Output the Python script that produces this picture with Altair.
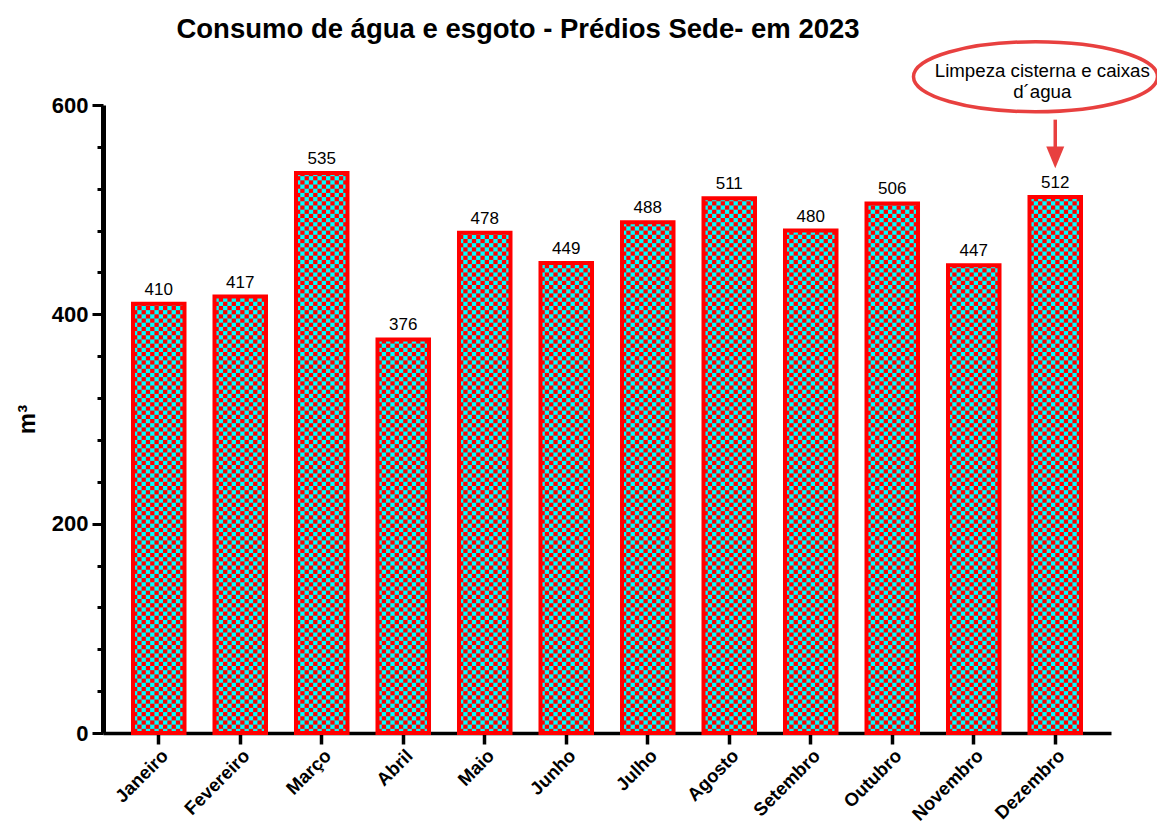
import math
import altair as alt
import pandas as pd

# ---- data ----
months = ["Janeiro", "Fevereiro", "Março", "Abril", "Maio", "Junho",
          "Julho", "Agosto", "Setembro", "Outubro", "Novembro", "Dezembro"]
values = [410, 417, 535, 376, 478, 449, 488, 511, 480, 506, 447, 512]

title_text = "Consumo de água e esgoto - Prédios Sede- em 2023"
y_title = "m³"
y_ticks = list(range(0, 601, 20))

note_text = ["Limpeza cisterna e caixas", "d´agua"]
note_month = "Dezembro"
note_y = 627        # ellipse / note level (m³ units)
arrow_top = 586     # arrow shaft start (m³ units)
arrow_head = 550    # arrow head centre (m³ units)

# ---- derived tables ----
bars = pd.DataFrame({"month": months, "value": values})

CELL = 4
NCOLS = 12
cell_rows = []
for m, v in zip(months, values):
    for r in range(math.ceil(v / CELL)):
        for c in range(NCOLS):
            if (r + c) % 2 == 0:
                cell_rows.append({"month": m, "col": c,
                                  "y0": r * CELL, "y1": min((r + 1) * CELL, v)})
cells = pd.DataFrame(cell_rows)

note = pd.DataFrame({"month": [note_month], "y": [note_y],
                     "text": ["\n".join(note_text)],
                     "ytop": [arrow_top], "yhead": [arrow_head]})

FONT = "Liberation Sans"
RED = "#FF0000"
CYAN = "#00FFFF"
NOTE_RED = "#E8403F"

ELLIPSE = ("M-1,0C-1,-0.1585,-0.5523,-0.287,0,-0.287"
           "C0.5523,-0.287,1,-0.1585,1,0"
           "C1,0.1585,0.5523,0.287,0,0.287"
           "C-0.5523,0.287,-1,0.1585,-1,0Z")

xscale = alt.Scale(domain=months, paddingInner=0.368, paddingOuter=0.368)
yscale = alt.Scale(domain=[0, 600], nice=False)

x_enc = alt.X("month:N", sort=months, scale=xscale,
              axis=alt.Axis(title=None, labelAngle=-45, labelFont=FONT,
                            labelFontWeight="bold", labelFontSize=18.5,
                            labelColor="black", domainColor="black",
                            domainWidth=3.5, tickColor="black", tickWidth=3.5,
                            tickSize=11, labelPadding=2, grid=False))

y_axis = alt.Axis(values=y_ticks,
                  labelExpr="datum.value % 200 === 0 ? datum.label : ''",
                  tickSize={"condition": {"test": "datum.value % 200 === 0", "value": 11},
                            "value": 6},
                  tickWidth=3, tickColor="black", domainColor="black",
                  domainWidth=5, labelFont=FONT, labelFontWeight="bold",
                  labelFontSize=22, labelColor="black", labelPadding=4,
                  labelOverlap=False, grid=False,
                  title=y_title, titleFont=FONT, titleFontSize=24,
                  titleFontWeight="bold", titleColor="black",
                  titleX=-76, titleBaseline="middle")

base_bar = alt.Chart(bars).mark_bar(color=CYAN).encode(
    x=x_enc,
    y=alt.Y("value:Q", scale=yscale, axis=y_axis),
)

checker = alt.Chart(cells).mark_bar(color=RED).encode(
    x=alt.X("month:N", sort=months, scale=xscale),
    xOffset=alt.XOffset("col:O", scale=alt.Scale(domain=list(range(NCOLS)),
                                                  paddingInner=0, paddingOuter=0)),
    y=alt.Y("y0:Q", scale=yscale),
    y2="y1:Q",
)

outline = alt.Chart(bars).mark_bar(fill="transparent", stroke=RED, strokeWidth=4).encode(
    x=alt.X("month:N", sort=months, scale=xscale),
    y=alt.Y("value:Q", scale=yscale),
)

labels = alt.Chart(bars).mark_text(dy=-9, baseline="alphabetic", font=FONT,
                                   fontSize=17, color="black").encode(
    x=alt.X("month:N", sort=months, scale=xscale),
    y=alt.Y("value:Q", scale=yscale),
    text="value:Q",
)

ellipse = alt.Chart(note).mark_point(
    shape=ELLIPSE, size=244 * 244, filled=True, fill="white", stroke=NOTE_RED,
    strokeWidth=3.5, opacity=1).encode(
    x=alt.X("month:N", sort=months, scale=xscale),
    xOffset=alt.value(6),
    y=alt.Y("y:Q", scale=yscale),
)

note_lbl = alt.Chart(note).mark_text(font=FONT, fontSize=18.7, color="black",
                                     baseline="alphabetic", lineBreak="\n",
                                     lineHeight=21.5, dx=-13).encode(
    x=alt.X("month:N", sort=months, scale=xscale),
    y=alt.Y("y:Q", scale=yscale),
    text="text:N",
)

arrow_shaft = alt.Chart(note).mark_rule(color=NOTE_RED, strokeWidth=3.5).encode(
    x=alt.X("month:N", sort=months, scale=xscale),
    y=alt.Y("ytop:Q", scale=yscale),
    y2="yhead:Q",
)

arrow_tip = alt.Chart(note).mark_point(
    shape="M-1,-1.2L1,-1.2L0,1.2Z", size=324, filled=True,
    color=NOTE_RED, opacity=1).encode(
    x=alt.X("month:N", sort=months, scale=xscale),
    y=alt.Y("yhead:Q", scale=yscale),
)

chart = alt.layer(base_bar, checker, outline, labels, ellipse, note_lbl,
                  arrow_shaft, arrow_tip).properties(
    width=1008, height=628,
    title=alt.Title(title_text, font=FONT, fontSize=27.5, fontWeight="bold",
                    color="black", anchor="middle", dx=-89, dy=31, offset=0,
                    baseline="alphabetic"),
    autosize=alt.AutoSizeParams(type="none"),
    padding={"left": 95, "top": 97, "right": 46, "bottom": 91},
    background="white",
).configure_view(strokeWidth=0, stroke=None)

chart.save("out.html", embed_options={"renderer": "svg", "actions": False})
